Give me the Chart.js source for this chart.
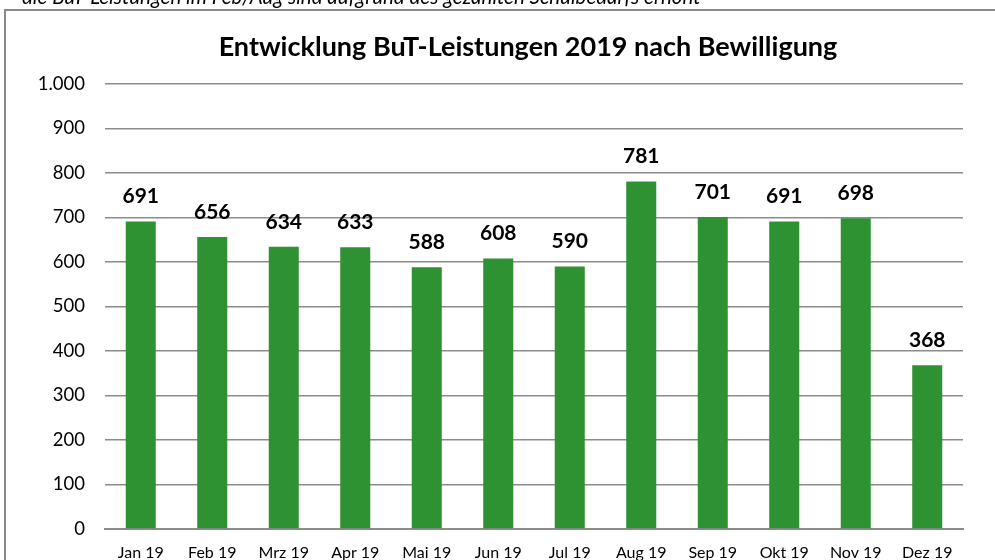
<!DOCTYPE html>
<html>
<head>
<meta charset="utf-8">
<script src="https://cdn.jsdelivr.net/npm/chart.js@4/dist/chart.umd.min.js"></script>
<style>
  html, body { margin: 0; padding: 0; background: #fff; }
  #wrap { position: relative; width: 995px; height: 560px; overflow: hidden; }
</style>
</head>
<body>
<div id="wrap"><canvas id="chart" width="995" height="560"></canvas></div>
<script>
const months = ["Jan 19", "Feb 19", "Mrz 19", "Apr 19", "Mai 19", "Jun 19", "Jul 19", "Aug 19", "Sep 19", "Okt 19", "Nov 19", "Dez 19"];
const leistungen = [691, 656, 634, 633, 588, 608, 590, 781, 701, 691, 698, 368];
const yTicks = [0, 100, 200, 300, 400, 500, 600, 700, 800, 900, 1000];

const chartTitle = "Entwicklung BuT-Leistungen 2019 nach Bewilligung";
const note = "die BuT-Leistungen im Feb/Aug sind aufgrund des gezählten Schulbedarfs erhöht";

const GREEN = "#2E9232";
const GRID = "#8C8C8C";

// number format like Excel (German: 1.000)
const fmt = v => v.toLocaleString("de-DE");

// frame, note, title and value labels
const decor = {
  id: "decor",
  beforeDraw(chart) {
    const ctx = chart.ctx;
    ctx.save();
    ctx.strokeStyle = "#898989";
    ctx.lineWidth = 2;
    ctx.beginPath();
    ctx.moveTo(1000, 10);
    ctx.lineTo(5, 10);
    ctx.lineTo(5, 570);
    ctx.stroke();

    ctx.fillStyle = "#000";
    ctx.font = "italic 20.5px Lato";
    ctx.textBaseline = "alphabetic";
    ctx.textAlign = "left";
    ctx.fillText(note, 22, 4, 690);

    ctx.font = "bold 27px Lato";
    ctx.textAlign = "center";
    ctx.fillText(chartTitle, 528, 56, 620);
    ctx.restore();
  },
  afterDatasetsDraw(chart) {
    const ctx = chart.ctx;
    const meta = chart.getDatasetMeta(0);
    ctx.save();
    ctx.fillStyle = "#000";
    ctx.font = "bold 21px Lato";
    ctx.textAlign = "center";
    ctx.textBaseline = "alphabetic";
    meta.data.forEach((bar, i) => {
      ctx.fillText(fmt(leistungen[i]), bar.x, bar.y - 18);
    });
    ctx.restore();
  }
};

new Chart(document.getElementById("chart"), {
  type: "bar",
  data: {
    labels: months,
    datasets: [{
      data: leistungen,
      backgroundColor: GREEN,
      borderWidth: 0,
      categoryPercentage: 1,
      barPercentage: 0.42
    }]
  },
  options: {
    responsive: false,
    animation: false,
    events: [],
    layout: { padding: { top: 84, right: 32, bottom: 0, left: 0 } },
    plugins: {
      legend: { display: false },
      tooltip: { enabled: false },
      title: { display: false }
    },
    scales: {
      x: {
        grid: { display: false, drawTicks: false },
        border: { color: GRID, width: 2 },
        ticks: { color: "#000", font: { family: "Lato", size: 16 }, padding: 14, maxRotation: 0, autoSkip: false },
        afterFit: s => { s.height = 31; }
      },
      y: {
        min: 0,
        max: 1000,
        afterBuildTicks: s => { s.ticks = yTicks.map(v => ({ value: v })); },
        grid: { color: GRID, lineWidth: 1.5, drawTicks: false },
        border: { display: false },
        ticks: { color: "#000", font: { family: "Lato", size: 18.5 }, padding: 20, callback: v => fmt(v) },
        afterFit: s => { s.width = 105; }
      }
    }
  },
  plugins: [decor]
});
</script>
</body>
</html>
